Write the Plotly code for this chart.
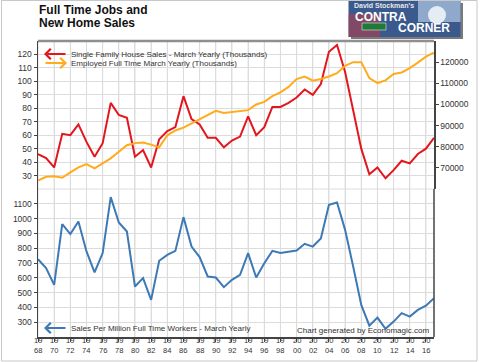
import plotly.graph_objects as go

years = list(range(1968, 2018))

house_sales = [46, 43, 36, 61, 60, 68, 55, 44, 54, 84,
               75, 73, 44, 49, 36, 57, 63, 66, 89, 72,
               68, 58, 58, 51, 56, 59, 74, 60, 66, 81,
               81, 84, 88, 94, 90, 98, 122, 127, 107, 78,
               50, 31, 36, 28, 34, 41, 39, 46, 50, 58]

employed_ft = [64000, 65800, 66000, 65300, 67900, 70200, 71800, 69800, 72100, 74500,
               77600, 80700, 81700, 82000, 81000, 79700, 85400, 87700, 89000, 90900,
               92900, 94900, 97000, 96000, 96400, 97000, 97300, 100000, 101200, 103900,
               105700, 108300, 112000, 113200, 111200, 112000, 113200, 114800, 118300, 120000,
               120000, 112500, 110100, 111400, 114400, 115100, 117200, 119800, 122600, 124500]

sales_per_million = [726, 665, 552, 963, 895, 980, 778, 636, 767, 1145,
                     974, 913, 541, 598, 451, 715, 755, 782, 1010, 811,
                     740, 609, 602, 537, 586, 620, 767, 602, 699, 782,
                     767, 778, 784, 830, 811, 865, 1093, 1109, 924, 676,
                     417, 277, 331, 255, 304, 361, 338, 383, 412, 462]

x_tickvals = list(range(1968, 2017, 2))
x_ticktext = [str(y)[:2] + "<br>" + str(y)[2:] for y in x_tickvals]

top_left_ticks = [30, 40, 50, 60, 70, 80, 90, 100, 110, 120]
right_ticks = [70000, 80000, 90000, 100000, 110000, 120000]
low_ticks = [300, 400, 500, 600, 700, 800, 900, 1000, 1100]

title_lines = ["Full Time Jobs and", "New Home Sales"]
legend_red = "Single Family House Sales - March Yearly (Thousands)"
legend_orange = "Employed Full Time March Yearly (Thousands)"
legend_blue = "Sales Per Million Full Time Workers - March Yearly"
credit = "Chart generated by Economagic.com"

RED = "#e3161d"
ORANGE = "#ffab1c"
BLUE = "#3d79b5"
GRID = "#dcdcdc"
AX = "#444444"
TXT = "#333333"
FONT = "Liberation Sans, Arial, sans-serif"

W, H = 480, 362
L, R, T, B = 38, 46, 41, 25
PW, PH = W - L - R, H - T - B


def px(xp):
    return (xp - L) / PW


def py(yp):
    return (H - B - yp) / PH


fig = go.Figure()
fig.add_trace(go.Scatter(x=years, y=house_sales, mode="lines",
                         line=dict(color=RED, width=2), xaxis="x", yaxis="y",
                         showlegend=False, hoverinfo="skip"))
fig.add_trace(go.Scatter(x=years, y=employed_ft, mode="lines",
                         line=dict(color=ORANGE, width=2), xaxis="x", yaxis="y2",
                         showlegend=False, hoverinfo="skip"))
fig.add_trace(go.Scatter(x=years, y=sales_per_million, mode="lines",
                         line=dict(color=BLUE, width=2), xaxis="x", yaxis="y3",
                         showlegend=False, hoverinfo="skip"))

tickfont = dict(family=FONT, size=8.5, color=TXT)

fig.update_layout(
    template="none",
    width=W, height=H,
    margin=dict(l=L, r=R, t=T, b=B, pad=0),
    paper_bgcolor="white", plot_bgcolor="white",
    hovermode=False,
    xaxis=dict(range=[1968, 2017], domain=[0, 1], anchor="y3", automargin=False,
               tickmode="array", tickvals=x_tickvals, showticklabels=False,
               ticks="outside", ticklen=3, tickcolor=AX,
               showgrid=True, gridcolor=GRID, gridwidth=1,
               showline=True, linecolor=AX, linewidth=1.5, zeroline=False),
    yaxis=dict(range=[20, 130], domain=[0.5, 1], anchor="x", automargin=False,
               tickmode="array", tickvals=top_left_ticks,
               ticks="outside", ticklen=3, tickcolor=AX, tickfont=tickfont,
               showgrid=True, gridcolor=GRID, gridwidth=1,
               showline=True, linecolor=AX, linewidth=1.5, zeroline=False),
    yaxis2=dict(range=[60000, 130000], overlaying="y", side="right", anchor="x",
                automargin=False, tickformat="d",
                tickmode="array", tickvals=right_ticks,
                ticks="outside", ticklen=3, tickcolor=AX, tickfont=tickfont,
                showgrid=False, showline=True, linecolor=AX, linewidth=1.5,
                zeroline=False),
    yaxis3=dict(range=[200, 1200], domain=[0, 0.5], anchor="x", automargin=False,
                tickmode="array", tickvals=low_ticks,
                ticks="outside", ticklen=3, tickcolor=AX, tickfont=tickfont,
                showgrid=True, gridcolor=GRID, gridwidth=1,
                showline=True, linecolor=AX, linewidth=1.5, zeroline=False),
)

shapes = []
# vertical grid lines on the x scale (both panels)
for v in x_tickvals:
    shapes.append(dict(type="line", xref="x", yref="paper", x0=v, x1=v, y0=0, y1=1,
                       line=dict(color=GRID, width=1), layer="below"))
# outer frame
shapes.append(dict(type="rect", xref="paper", yref="paper",
                   x0=px(1.5), x1=px(477), y0=py(361), y1=py(0.5),
                   line=dict(color="#c8c8c8", width=1), fillcolor="rgba(0,0,0,0)", layer="below"))
# panel boundary grid line
shapes.append(dict(type="line", xref="paper", yref="paper", x0=0, x1=1, y0=0.5, y1=0.5,
                   line=dict(color=GRID, width=1), layer="below"))
# plot border: top gray, right dark
shapes.append(dict(type="line", xref="paper", yref="paper", x0=0, x1=1, y0=1, y1=1,
                   line=dict(color="#8f8f8f", width=2.5)))
shapes.append(dict(type="line", xref="paper", yref="paper", x0=1, x1=1, y0=0, y1=0.5,
                   line=dict(color=AX, width=1.5)))

# logo (approximation of the masthead picture)
shapes.append(dict(type="rect", xref="paper", yref="paper",
                   x0=px(351), x1=px(463), y0=py(39), y1=py(3),
                   line=dict(width=0), fillcolor="#7a7a7a"))
shapes.append(dict(type="rect", xref="paper", yref="paper",
                   x0=px(348.5), x1=px(460.5), y0=py(37), y1=py(1),
                   line=dict(width=0), fillcolor="#3a5a8e"))
shapes.append(dict(type="rect", xref="paper", yref="paper",
                   x0=px(348.5), x1=px(380), y0=py(37), y1=py(14),
                   line=dict(width=0), fillcolor="rgba(190,60,70,0.55)"))
shapes.append(dict(type="rect", xref="paper", yref="paper",
                   x0=px(418), x1=px(460.5), y0=py(22), y1=py(1),
                   line=dict(width=0), fillcolor="#8fa9cc"))
shapes.append(dict(type="circle", xref="paper", yref="paper",
                   x0=px(428), x1=px(446), y0=py(24), y1=py(6),
                   line=dict(width=0), fillcolor="#e6ecf4"))
shapes.append(dict(type="rect", xref="paper", yref="paper",
                   x0=px(362), x1=px(386), y0=py(30), y1=py(23),
                   line=dict(color="white", width=0.5), fillcolor="#1f7a3a"))

annotations = []
annotations.append(dict(text="<b>" + title_lines[0] + "</b>", xref="paper", yref="paper",
                        x=px(37), y=py(10), xanchor="left", yanchor="middle",
                        showarrow=False, font=dict(family=FONT, size=12, color="#111111")))
annotations.append(dict(text="<b>" + title_lines[1] + "</b>", xref="paper", yref="paper",
                        x=px(37), y=py(22.5), xanchor="left", yanchor="middle",
                        showarrow=False, font=dict(family=FONT, size=12, color="#111111")))

# two-line year tick labels, placed on the x scale
for v, t in zip(x_tickvals, x_ticktext):
    annotations.append(dict(text=t, xref="x", yref="paper", x=v, y=py(345.8),
                            xanchor="center", yanchor="middle", showarrow=False,
                            borderpad=0, font=dict(family=FONT, size=7.6, color=TXT)))

legfont = dict(family=FONT, size=8, color=TXT)
# legend arrows and texts
for (yp, color, txt, head_left) in [(54, RED, legend_red, True),
                                     (63, ORANGE, legend_orange, False),
                                     (328, BLUE, legend_blue, True)]:
    if head_left:
        hx, tail_off = 44, 23
    else:
        hx, tail_off = 67, -23
    annotations.append(dict(text="", xref="paper", yref="paper", x=px(hx), y=py(yp),
                            showarrow=True, ax=tail_off, ay=0, arrowcolor=color,
                            arrowwidth=2, arrowhead=4, arrowsize=1))
    annotations.append(dict(text=txt, xref="paper", yref="paper", x=px(69), y=py(yp),
                            xanchor="left", yanchor="middle", showarrow=False, font=legfont))

annotations.append(dict(text=credit, xref="paper", yref="paper", x=px(431), y=py(330),
                        xanchor="right", yanchor="middle", showarrow=False, font=legfont))

# logo texts
annotations.append(dict(text="<b>David Stockman's</b>", xref="paper", yref="paper",
                        x=px(352), y=py(5.5), xanchor="left", yanchor="middle",
                        showarrow=False, font=dict(family=FONT, size=7, color="#e8e8e8")))
annotations.append(dict(text="<b>CONTRA</b>", xref="paper", yref="paper",
                        x=px(353), y=py(16.5), xanchor="left", yanchor="middle",
                        showarrow=False, font=dict(family=FONT, size=12, color="white")))
annotations.append(dict(text="<b>CORNER</b>", xref="paper", yref="paper",
                        x=px(396), y=py(28.5), xanchor="left", yanchor="middle",
                        showarrow=False, font=dict(family=FONT, size=12, color="white")))

fig.update_layout(shapes=shapes, annotations=annotations)

fig.write_html("out.html", config={"displayModeBar": False, "staticPlot": True},
               post_script="document.body.style.margin='0px';")
